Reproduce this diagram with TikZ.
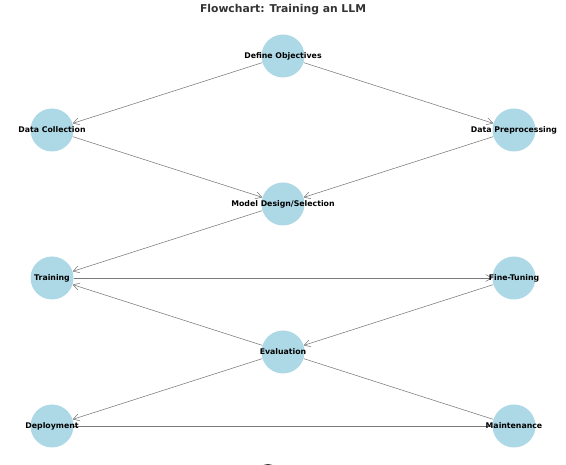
\documentclass[tikz,border=0pt]{standalone}
\usepackage{fontspec}
\setmainfont{DejaVu Sans}
\usepackage{xcolor}
\usepackage{tikz}
\usetikzlibrary{arrows.meta, backgrounds}
\definecolor{bleuclair}{HTML}{ADD8E6}
\definecolor{gristitre}{HTML}{333333}
\definecolor{grislien}{HTML}{7A7A7A}
\tikzstyle{etape} = [circle, 
minimum size=43pt, 
inner sep=0pt,
fill=bleuclair]
\tikzstyle{texte} = [font=\fontsize{7.8}{9}\selectfont\bfseries, inner sep=0pt, text height=5.8pt, text depth=1.2pt]
\tikzstyle{fleche} = [draw=grislien, line width=0.55pt, -{Straight Barb[length=6pt,width=7pt]}]
\tikzstyle{lien} = [draw=grislien, line width=0.55pt]

\begin{document}
\begin{tikzpicture}[x=1pt, y=-1pt]

\useasboundingbox (0,0) rectangle (566,465);
\clip (0,0) rectangle (566,465);

% Titre
\node[font=\fontsize{10.8}{12}\selectfont\bfseries, text=gristitre] (titre) at (283,9.5) {Flowchart: Training an LLM};

% Etapes (cercles)
\node[etape, label={[texte]center:Define Objectives}] (objectifs) at (283,56) {};
\node[etape, label={[texte]center:Data Collection}] (collecte) at (52,130) {};
\node[etape, label={[texte]center:Data Preprocessing}] (pretraitement) at (514,130) {};
\node[etape, label={[texte]center:Model Design/Selection}] (modele) at (283,204) {};
\node[etape, label={[texte]center:Training}] (entrainement) at (52,278) {};
\node[etape, label={[texte]center:Fine-Tuning}] (ajustement) at (514,278) {};
\node[etape, label={[texte]center:Evaluation}] (evaluation) at (283,352) {};
\node[etape, label={[texte]center:Deployment}] (deploiement) at (52,426) {};
\node[etape, label={[texte]center:Maintenance}] (maintenance) at (514,426) {};

% Liens (sous les cercles)
\begin{scope}[on background layer]
\draw[fleche] (objectifs) -- (collecte);
\draw[fleche] (objectifs) -- (pretraitement);
\draw[fleche] (collecte) -- (modele);
\draw[fleche] (pretraitement) -- (modele);
\draw[fleche] (modele) -- (entrainement);
\draw[fleche] (entrainement) -- (ajustement);
\draw[fleche] (ajustement) -- (evaluation);
\draw[fleche] (evaluation) -- (entrainement);
\draw[fleche] (evaluation) -- (deploiement);
\draw[lien] (evaluation) -- (maintenance);
\draw[lien] (deploiement) -- (maintenance);
\end{scope}

% Bout coupé en bas
\fill[gristitre] (268,475) circle (11);

\end{tikzpicture}
\end{document}
